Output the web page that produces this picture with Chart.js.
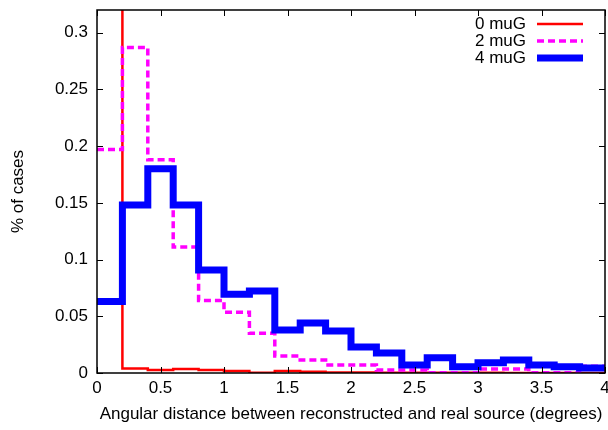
<!DOCTYPE html>
<html>
<head>
<meta charset="utf-8">
<script src="https://cdn.jsdelivr.net/npm/chart.js@4"></script>
<style>
  html, body { margin: 0; padding: 0; background: #fff; }
  #wrap { width: 608px; height: 430px; }
</style>
</head>
<body>
<div id="wrap"><canvas id="c" width="608" height="430"></canvas></div>
<script>
// Bin edges (degrees)
const binEdges = [0, 0.2, 0.4, 0.6, 0.8, 1.0, 1.2, 1.4, 1.6, 1.8, 2.0, 2.2, 2.4, 2.6, 2.8, 3.0, 3.2, 3.4, 3.6, 3.8, 4.0];
// Fraction of cases per bin (20 bins)
const series0muG = [0.95, 0.004, 0.0026, 0.0035, 0.0026, 0.0018, 0.0003, 0.0018, 0.001, 0.0005, 0.0005, 0.0003, 0.0003, 0.0002, 0.0002, 0.0002, 0.0001, 0.0001, 0.0001, 0.0001];
const series2muG = [0.197, 0.287, 0.188, 0.111, 0.064, 0.0535, 0.035, 0.015, 0.0115, 0.007, 0.007, 0.0026, 0.0026, 0.0003, 0.0003, 0.0035, 0.0035, 0.0003, 0.0003, 0.006];
const series4muG = [0.063, 0.148, 0.180, 0.148, 0.0907, 0.0694, 0.0722, 0.038, 0.044, 0.037, 0.023, 0.0176, 0.007, 0.0135, 0.0055, 0.009, 0.0115, 0.007, 0.0055, 0.0044];
const seriesNames = ["0 muG", "2 muG", "4 muG"];
const xTicks = [0, 0.5, 1, 1.5, 2, 2.5, 3, 3.5, 4];
const xTickLabels = ["0", "0.5", "1", "1.5", "2", "2.5", "3", "3.5", "4"];
const yTicks = [0, 0.05, 0.1, 0.15, 0.2, 0.25, 0.3];
const yTickLabels = ["0", "0.05", "0.1", "0.15", "0.2", "0.25", "0.3"];
const xTitle = "Angular distance between reconstructed and real source (degrees)";
const yTitle = "% of cases";

function toSteps(vals) {
  const pts = vals.map((v, i) => ({ x: binEdges[i], y: v }));
  pts.push({ x: binEdges[vals.length], y: vals[vals.length - 1] });
  return pts;
}

const FONT = "'Liberation Sans', Arial, sans-serif";

const insideTicks = {
  id: 'insideTicks',
  afterDatasetsDraw(chart) {
    const { ctx, chartArea: a, scales: { x, y } } = chart;
    ctx.save();
    ctx.strokeStyle = '#000';
    ctx.lineWidth = 1;
    const L = 6;
    xTicks.forEach(v => {
      const px = Math.round(x.getPixelForValue(v)) + 0.5;
      ctx.beginPath();
      ctx.moveTo(px, a.bottom); ctx.lineTo(px, a.bottom - L);
      ctx.moveTo(px, a.top); ctx.lineTo(px, a.top + L);
      ctx.stroke();
    });
    yTicks.forEach(v => {
      const py = Math.round(y.getPixelForValue(v)) + 0.5;
      ctx.beginPath();
      ctx.moveTo(a.left, py); ctx.lineTo(a.left + L, py);
      ctx.moveTo(a.right, py); ctx.lineTo(a.right - L, py);
      ctx.stroke();
    });
    ctx.lineWidth = 1.5;
    ctx.strokeRect(a.left, a.top, a.right - a.left, a.bottom - a.top);
    // legend
    ctx.font = "17px " + FONT;
    ctx.fillStyle = '#000';
    ctx.textAlign = 'right';
    ctx.textBaseline = 'middle';
    [0, 1, 2].forEach((i, row) => {
      const ds = chart.data.datasets[i];
      const yy = 24 + row * 17;
      ctx.fillText(ds.label, 526, yy);
      ctx.beginPath();
      ctx.strokeStyle = ds.borderColor;
      ctx.lineWidth = ds.borderWidth;
      ctx.setLineDash(ds.borderDash || []);
      ctx.lineCap = 'butt';
      ctx.moveTo(537, yy); ctx.lineTo(583, yy);
      ctx.stroke();
      ctx.setLineDash([]);
    });
    ctx.restore();
  }
};

new Chart(document.getElementById('c'), {
  type: 'line',
  data: {
    datasets: [
      { label: seriesNames[0], data: toSteps(series0muG), borderColor: '#ff0000', borderWidth: 2.5, stepped: 'before', pointRadius: 0, fill: false, order: 2, clip: 0, borderJoinStyle: 'miter', borderCapStyle: 'butt' },
      { label: seriesNames[1], data: toSteps(series2muG), borderColor: '#ff00ff', borderWidth: 3.5, borderDash: [7, 4], stepped: 'before', pointRadius: 0, fill: false, order: 1, clip: 0, borderJoinStyle: 'miter', borderCapStyle: 'butt' },
      { label: seriesNames[2], data: toSteps(series4muG), borderColor: '#0000ff', borderWidth: 7, stepped: 'before', pointRadius: 0, fill: false, order: 0, clip: 0, borderJoinStyle: 'miter', borderCapStyle: 'butt' }
    ]
  },
  options: {
    responsive: false,
    animation: false,
    devicePixelRatio: 1,
    layout: { padding: { top: 10, right: 3, left: 0, bottom: 0 } },
    plugins: { legend: { display: false }, tooltip: { enabled: false } },
    scales: {
      x: {
        type: 'linear', min: 0, max: 4,
        grid: { display: false, drawTicks: false },
        border: { display: false },
        afterBuildTicks: s => { s.ticks = xTicks.map(v => ({ value: v })); },
        afterFit: s => { s.height = 57; s.paddingLeft = 0; s.paddingRight = 0; },
        ticks: {
          autoSkip: false, maxRotation: 0, padding: 5,
          color: '#000', font: { family: FONT, size: 17 },
          callback: (v, i) => xTickLabels[i]
        },
        title: { display: true, text: xTitle, color: '#000', font: { family: FONT, size: 17 }, padding: { top: 4, bottom: 5 } }
      },
      y: {
        type: 'linear', min: 0, max: 0.32,
        grid: { display: false, drawTicks: false },
        border: { display: false },
        afterBuildTicks: s => { s.ticks = yTicks.map(v => ({ value: v })); },
        afterFit: s => { s.width = 97; s.paddingTop = 0; s.paddingBottom = 0; },
        ticks: {
          autoSkip: false, padding: 9,
          color: '#000', font: { family: FONT, size: 17 },
          callback: (v, i) => yTickLabels[i]
        },
        title: { display: true, text: yTitle, color: '#000', font: { family: FONT, size: 17 }, padding: { top: 8, bottom: 0 } }
      }
    }
  },
  plugins: [insideTicks]
});
</script>
</body>
</html>
